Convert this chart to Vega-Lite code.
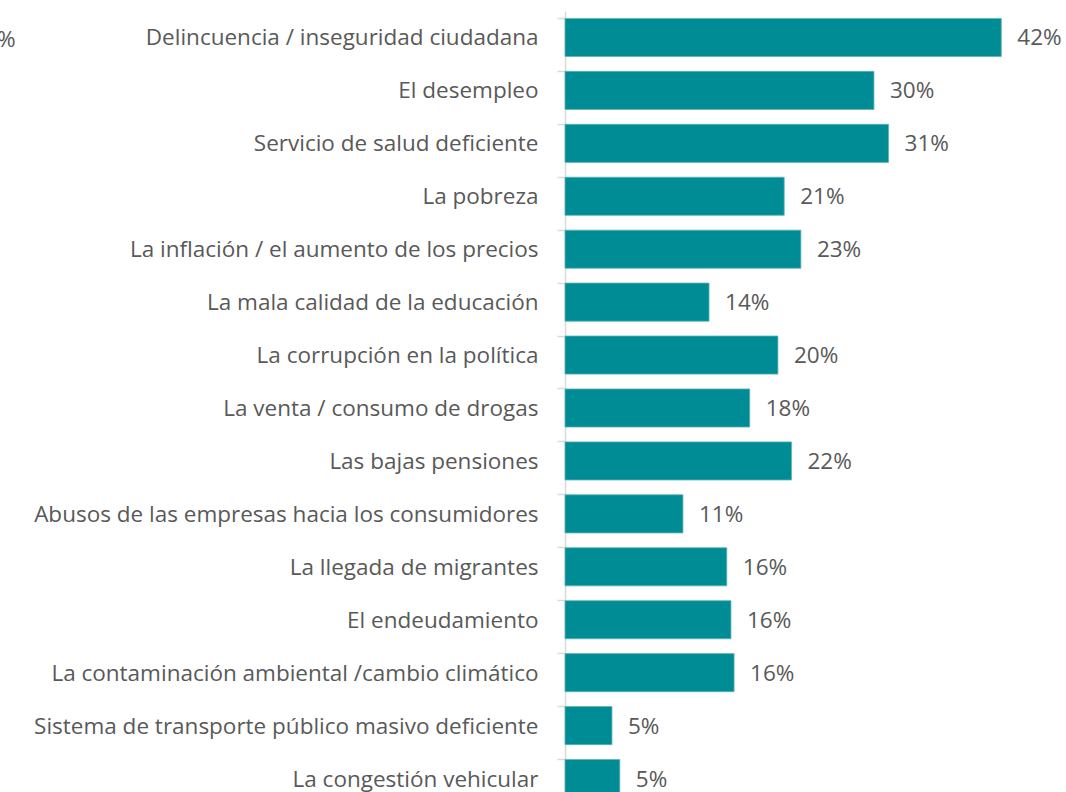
{
  "$schema": "https://vega.github.io/schema/vega-lite/v6.json",
  "autosize": {"type": "none"},
  "padding": {"left": 565, "top": 11, "right": 0, "bottom": 0},
  "width": 501,
  "height": 794,
  "background": "white",
  "title": {
    "text": "%",
    "anchor": "start",
    "frame": "group",
    "orient": "top",
    "fontSize": 22.5,
    "font": "Open Sans",
    "fontWeight": "normal",
    "color": "#595959",
    "dx": -568,
    "dy": 44
  },
  "data": {
    "values": [
      {"tema": "Delincuencia / inseguridad ciudadana", "pct": 41.8, "label": "42%"},
      {"tema": "El desempleo", "pct": 29.6, "label": "30%"},
      {"tema": "Servicio de salud deficiente", "pct": 31.0, "label": "31%"},
      {"tema": "La pobreza", "pct": 21.0, "label": "21%"},
      {"tema": "La inflación / el aumento de los precios", "pct": 22.6, "label": "23%"},
      {"tema": "La mala calidad de la educación", "pct": 13.8, "label": "14%"},
      {"tema": "La corrupción en la política", "pct": 20.4, "label": "20%"},
      {"tema": "La venta / consumo de drogas", "pct": 17.7, "label": "18%"},
      {"tema": "Las bajas pensiones", "pct": 21.7, "label": "22%"},
      {"tema": "Abusos de las empresas hacia los consumidores", "pct": 11.3, "label": "11%"},
      {"tema": "La llegada de migrantes", "pct": 15.5, "label": "16%"},
      {"tema": "El endeudamiento", "pct": 15.9, "label": "16%"},
      {"tema": "La contaminación ambiental /cambio climático", "pct": 16.2, "label": "16%"},
      {"tema": "Sistema de transporte público masivo deficiente", "pct": 4.5, "label": "5%"},
      {"tema": "La congestión vehicular", "pct": 5.25, "label": "5%"}
    ]
  },
  "encoding": {
    "y": {
      "field": "tema",
      "type": "nominal",
      "sort": null,
      "title": null,
      "scale": {"paddingInner": 0.28, "paddingOuter": 0.14},
      "axis": {
        "bandPosition": 0,
        "domainColor": "#D9D9D9",
        "domainWidth": 1.5,
        "tickColor": "#D9D9D9",
        "tickWidth": 1.5,
        "tickSize": 8,
        "labelPadding": 19,
        "labelFont": "Open Sans",
        "labelFontSize": 22.5,
        "labelColor": "#595959",
        "labelLimit": 600,
        "labelOffset": 1
      }
    },
    "x": {
      "field": "pct",
      "type": "quantitative",
      "scale": {"domain": [0, 48]},
      "axis": null
    }
  },
  "layer": [
    {
      "mark": {"type": "bar", "color": "#008C95", "stroke": "#5FB3B8", "strokeWidth": 0.8}
    },
    {
      "mark": {"type": "text", "align": "left", "baseline": "middle", "dx": 16, "dy": 1, "font": "Open Sans", "fontSize": 22.5, "color": "#595959"},
      "encoding": {"text": {"field": "label"}}
    }
  ],
  "config": {"view": {"stroke": null}}
}
